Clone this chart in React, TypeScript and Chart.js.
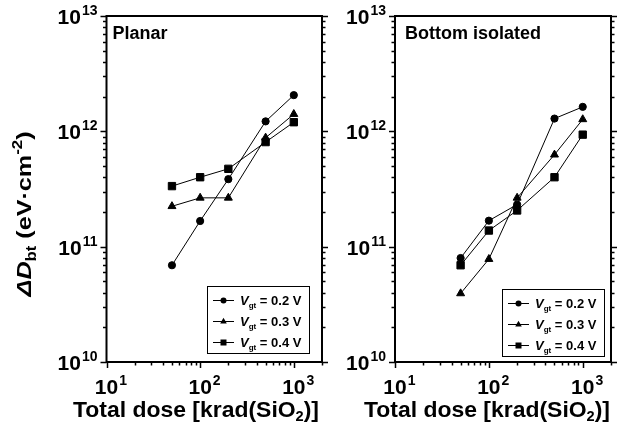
import React, { useEffect, useRef } from "react";
import { Chart, registerables } from "chart.js";

Chart.register(...registerables);

// ---------- data ----------
const doses = [50, 100, 200, 500, 1000];
const planarV02 = [6.9e10, 1.67e11, 3.85e11, 1.22e12, 2.06e12];
const planarV03 = [2.24e11, 2.65e11, 2.65e11, 8.8e11, 1.41e12];
const planarV04 = [3.35e11, 4.0e11, 4.73e11, 8.07e11, 1.2e12];
const bottomV02 = [7.97e10, 1.68e11, 2.32e11, 1.29e12, 1.63e12];
const bottomV03 = [3.93e10, 7.8e10, 2.65e11, 6.27e11, 1.27e12];
const bottomV04 = [6.9e10, 1.38e11, 2.06e11, 4.0e11, 9.36e11];
const seriesVoltages = ["0.2", "0.3", "0.4"];
const seriesMarkers = ["circle", "triangle", "rect"];
const xMin = 10;
const xMax = 2000;
const yMin = 1e10;
const yMax = 1e13;
const xTickExponents = [1, 2, 3];
const yTickExponents = [10, 11, 12, 13];
const panelTitles = ["Planar", "Bottom isolated"];
const xTitle = ["Total dose [krad(SiO", "2", ")]"];

const FONT = '"Liberation Sans", Arial, Helvetica, sans-serif';

function markerRadius(style: string) {
  if (style === "circle") return 3.6;
  if (style === "triangle") return 4.6;
  return 5.2;
}

function drawMarker(ctx: CanvasRenderingContext2D, style: string, x: number, y: number, s: number) {
  ctx.beginPath();
  if (style === "circle") {
    ctx.arc(x, y, 3 * s, 0, Math.PI * 2);
  } else if (style === "triangle") {
    const r = 3.8 * s;
    ctx.moveTo(x, y - r);
    ctx.lineTo(x + r * 0.866, y + r * 0.5);
    ctx.lineTo(x - r * 0.866, y + r * 0.5);
    ctx.closePath();
  } else {
    const h = 3 * s;
    ctx.rect(x - h, y - h, 2 * h, 2 * h);
  }
  ctx.fill();
}

function drawPow(ctx: CanvasRenderingContext2D, exp: number, x: number, y: number, align: string) {
  const base = "10";
  const sup = String(exp);
  const bf = `bold 21px ${FONT}`;
  const sf = `bold 14px ${FONT}`;
  ctx.font = bf;
  const bw = ctx.measureText(base).width;
  ctx.font = sf;
  const sw = ctx.measureText(sup).width;
  const total = bw + sw + 1;
  const x0 = align === "right" ? x - total : x - bw / 2;
  ctx.textAlign = "left";
  ctx.textBaseline = "alphabetic";
  ctx.font = bf;
  ctx.fillText(base, x0, y);
  ctx.font = sf;
  ctx.fillText(sup, x0 + bw + 1, y - 9);
}

const framePlugin = {
  id: "frameDecor",
  afterDraw(chart: any, _args: any, opts: any) {
    const ctx: CanvasRenderingContext2D = chart.ctx;
    const { left, right, top, bottom } = chart.chartArea;
    const xs = chart.scales.x;
    const ys = chart.scales.y;
    ctx.save();
    ctx.strokeStyle = "#000";
    ctx.fillStyle = "#000";

    // ticks
    ctx.lineWidth = 1.5;
    for (let d = 0; d <= 4; d++) {
      for (let m = 1; m <= 9; m++) {
        const v = m * Math.pow(10, d);
        if (v < xMin - 1e-9 || v > xMax + 1e-9) continue;
        const px = Math.round(xs.getPixelForValue(v)) + 0.5;
        const len = m === 1 ? 6 : 3.5;
        ctx.beginPath();
        ctx.moveTo(px, bottom);
        ctx.lineTo(px, bottom + len);
        ctx.stroke();
      }
    }
    for (let d = 10; d <= 13; d++) {
      for (let m = 1; m <= 9; m++) {
        const v = m * Math.pow(10, d);
        if (v < yMin * 0.999 || v > yMax * 1.001) continue;
        const py = Math.round(ys.getPixelForValue(v)) + 0.5;
        const len = m === 1 ? 6 : 3.5;
        ctx.beginPath();
        ctx.moveTo(left - len, py);
        ctx.lineTo(left, py);
        ctx.moveTo(right, py);
        ctx.lineTo(right + len, py);
        ctx.stroke();
      }
    }

    // frame
    ctx.lineWidth = 2;
    ctx.strokeRect(left, top, right - left, bottom - top);

    // tick labels
    for (const e of yTickExponents) {
      const py = ys.getPixelForValue(Math.pow(10, e));
      drawPow(ctx, e, left - 9, py + 8, "right");
    }
    for (const e of xTickExponents) {
      const px = xs.getPixelForValue(Math.pow(10, e));
      drawPow(ctx, e, px, 394, "center");
    }

    // panel title
    ctx.font = `bold 18px ${FONT}`;
    ctx.textAlign = "left";
    ctx.textBaseline = "alphabetic";
    ctx.fillText(opts.title, left + opts.titleDx, top + 23);

    // x title (fitted to the reference's width)
    const big = `bold 22px ${FONT}`;
    const small = `bold 14px ${FONT}`;
    ctx.font = big;
    const w1 = ctx.measureText(xTitle[0]).width;
    ctx.font = small;
    const w2 = ctx.measureText(xTitle[1]).width;
    ctx.font = big;
    const w3 = ctx.measureText(xTitle[2]).width;
    const tw = w1 + w2 + w3;
    const k = opts.xTitleWidth / tw;
    ctx.save();
    ctx.translate(opts.xTitleCenter - opts.xTitleWidth / 2, 417);
    ctx.scale(k, 1);
    let tx = 0;
    ctx.font = big;
    ctx.fillText(xTitle[0], tx, 0);
    tx += w1;
    ctx.font = small;
    ctx.fillText(xTitle[1], tx, 4);
    tx += w2;
    ctx.font = big;
    ctx.fillText(xTitle[2], tx, 0);
    ctx.restore();

    // y title
    if (opts.yTitle) {
      const parts = [
        { t: "\u0394", f: `italic bold 21px ${FONT}`, dy: 0 },
        { t: "D", f: `italic bold 21px ${FONT}`, dy: 0 },
        { t: "bt", f: `bold 14px ${FONT}`, dy: 5 },
        { t: " (eV\u00b7cm", f: `bold 21px ${FONT}`, dy: 0 },
        { t: "-2", f: `bold 14px ${FONT}`, dy: -9 },
        { t: ")", f: `bold 21px ${FONT}`, dy: 0 },
      ];
      let total = 0;
      const widths = parts.map((p) => {
        ctx.font = p.f;
        const w = ctx.measureText(p.t).width;
        total += w;
        return w;
      });
      const ky = opts.yTitleLength / total;
      ctx.save();
      ctx.translate(31, opts.yTitleCenter);
      ctx.rotate(-Math.PI / 2);
      ctx.scale(ky, 1);
      let cx = -total / 2;
      parts.forEach((p, i) => {
        ctx.font = p.f;
        ctx.fillText(p.t, cx, p.dy);
        cx += widths[i];
      });
      ctx.restore();
    }

    // legend
    const bx = right - opts.legendRight - opts.legendW;
    const by = bottom - opts.legendBottom - opts.legendH;
    ctx.lineWidth = 1;
    ctx.strokeRect(Math.round(bx) + 0.5, Math.round(by) + 0.5, opts.legendW, opts.legendH);
    seriesVoltages.forEach((v, i) => {
      const ry = by + 14 + i * 21;
      ctx.beginPath();
      ctx.moveTo(bx + 6, Math.round(ry) + 0.5);
      ctx.lineTo(bx + 27, Math.round(ry) + 0.5);
      ctx.stroke();
      drawMarker(ctx, seriesMarkers[i], bx + 16.5, ry + 0.5, 1);
      let lx = bx + 33;
      const lb = ry + 5;
      ctx.font = `italic bold 13px ${FONT}`;
      ctx.fillText("V", lx, lb);
      lx += ctx.measureText("V").width;
      ctx.font = `bold 8px ${FONT}`;
      ctx.fillText("gt", lx, lb + 3);
      lx += ctx.measureText("gt").width;
      ctx.font = `bold 13px ${FONT}`;
      ctx.fillText(` = ${v} V`, lx, lb);
    });

    ctx.restore();
  },
};

function makeDatasets(series: number[][]) {
  return series.map((vals, i) => ({
    label: `Vgt = ${seriesVoltages[i]} V`,
    data: doses.map((d, j) => ({ x: d, y: vals[j] })),
    borderColor: "#000",
    borderWidth: 1,
    backgroundColor: "#000",
    pointBackgroundColor: "#000",
    pointBorderColor: "#000",
    pointBorderWidth: 1,
    pointStyle: seriesMarkers[i],
    pointRadius: markerRadius(seriesMarkers[i]),
    tension: 0,
    fill: false,
  }));
}

function Panel(props: {
  series: number[][];
  width: number;
  offsetX: number;
  padding: { left: number; right: number; top: number; bottom: number };
  title: string;
  titleDx: number;
  yTitle: boolean;
  xTitleCenter: number;
  legendRight: number;
  legendBottom: number;
}) {
  const ref = useRef<HTMLCanvasElement | null>(null);
  useEffect(() => {
    if (!ref.current) return;
    const chart = new Chart(ref.current, {
      type: "line",
      data: { datasets: makeDatasets(props.series) as any },
      options: {
        animation: false,
        responsive: false,
        devicePixelRatio: 1,
        layout: { padding: props.padding },
        scales: {
          x: { type: "logarithmic", min: xMin, max: xMax, display: false },
          y: { type: "logarithmic", min: yMin, max: yMax, display: false },
        },
        plugins: {
          legend: { display: false },
          tooltip: { enabled: false },
          frameDecor: {
            title: props.title,
            titleDx: props.titleDx,
            yTitle: props.yTitle,
            yTitleCenter: 214,
            yTitleLength: 165,
            xTitleCenter: props.xTitleCenter,
            xTitleWidth: 246,
            legendRight: props.legendRight,
            legendBottom: props.legendBottom,
            legendW: 102,
            legendH: 67,
          },
        } as any,
      },
      plugins: [framePlugin],
    });
    return () => chart.destroy();
  }, []);
  return (
    <canvas
      ref={ref}
      width={props.width}
      height={428}
      style={{ position: "absolute", left: props.offsetX, top: 0, width: props.width, height: 428 }}
    />
  );
}

export default function App() {
  return (
    <div style={{ position: "fixed", left: 0, top: 0, width: 622, height: 428, background: "#fff" }}>
      <Panel
        series={[planarV02, planarV03, planarV04]}
        width={330}
        offsetX={0}
        padding={{ left: 106.5, right: 8, top: 16, bottom: 66 }}
        title={panelTitles[0]}
        titleDx={6}
        yTitle={true}
        xTitleCenter={196}
        legendRight={13}
        legendBottom={9}
      />
      <Panel
        series={[bottomV02, bottomV03, bottomV04]}
        width={292}
        offsetX={330}
        padding={{ left: 65, right: 11, top: 16, bottom: 66 }}
        title={panelTitles[1]}
        titleDx={10}
        yTitle={false}
        xTitleCenter={157}
        legendRight={7}
        legendBottom={6}
      />
    </div>
  );
}
